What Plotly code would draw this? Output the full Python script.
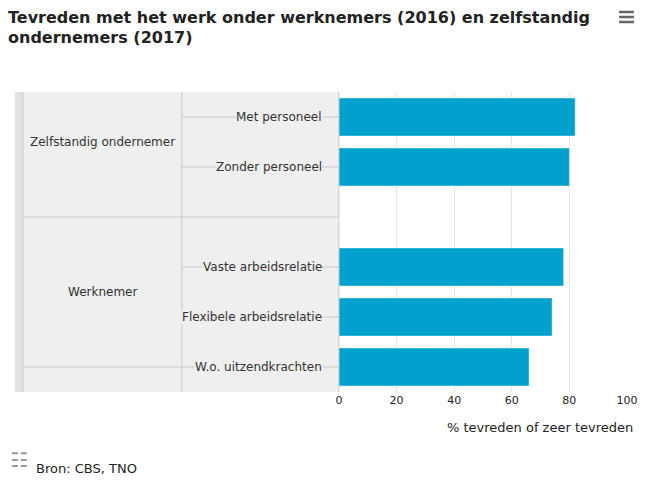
import plotly.graph_objects as go

categories = ["Met personeel", "Zonder personeel", " ", "Vaste arbeidsrelatie", "Flexibele arbeidsrelatie", "W.o. uitzendkrachten"]
values = [82, 80, None, 78, 74, 66]
groups = ["Zelfstandig ondernemer", "Werknemer"]
xticks = [0, 20, 40, 60, 80, 100]

font = "DejaVu Sans"
fig = go.Figure(go.Bar(y=categories, x=values, orientation="h", marker_color="#00a1cd",
                       hoverinfo="x+y"))

W = 616
def px(p):
    return (p - 12) / W
def py(p):
    return (392 - p) / 300

x0 = px(338)
xmid = px(180)
xin = px(20)
gl = dict(color="#c8c8c8", width=1)
shapes = [
    dict(type="rect", xref="paper", yref="paper", x0=0, x1=x0, y0=0, y1=1, fillcolor="#efefef", line_width=0, layer="below"),
    dict(type="rect", xref="paper", yref="paper", x0=0, x1=xin, y0=0, y1=1, fillcolor="#e2e2e2", line_width=0, layer="below"),
    dict(type="line", xref="paper", yref="paper", x0=xin, x1=xin, y0=0, y1=1, line=gl),
    dict(type="line", xref="paper", yref="paper", x0=xmid, x1=xmid, y0=0, y1=1, line=gl),
    dict(type="line", xref="paper", yref="y", x0=xin, x1=x0, y0=2, y1=2, line=gl),
    dict(type="line", xref="paper", yref="y", x0=xin, x1=xmid, y0=5, y1=5, line=gl),
    dict(type="line", xref="paper", yref="paper", x0=x0, x1=x0, y0=0, y1=1, line=gl),
]
# menu icon (three bars)
for yy in (12, 17, 22):
    shapes.append(dict(type="line", xref="paper", yref="paper", x0=px(620), x1=px(635), y0=py(yy), y1=py(yy),
                       line=dict(color="#666", width=2.5)))
annotations = []
for i, c in enumerate(categories):
    if c.strip():
        shapes.append(dict(type="line", xref="paper", yref="y", x0=xmid, x1=x0, y0=i, y1=i, line=gl))
        annotations.append(dict(text=c, xref="paper", yref="y", x=px(322), y=i, xanchor="right",
                                showarrow=False, bgcolor="#efefef", borderpad=0, font=dict(size=12, color="#333")))
annotations += [
    dict(text=groups[0], xref="paper", yref="y", x=(xin + xmid) / 2, y=0.5, xanchor="center", showarrow=False, font=dict(size=12, color="#333")),
    dict(text=groups[1], xref="paper", yref="y", x=(xin + xmid) / 2, y=3.5, xanchor="center", showarrow=False, font=dict(size=12, color="#333")),
    dict(text="% tevreden of zeer tevreden", xref="paper", yref="paper", x=px(636), y=py(427), xanchor="right", yanchor="middle",
         showarrow=False, font=dict(size=13, color="#222")),
    dict(text="Bron: CBS, TNO", xref="paper", yref="paper", x=px(31), y=py(468), xanchor="left", yanchor="middle",
         showarrow=False, font=dict(size=13, color="#222")),
    dict(text="☷", xref="paper", yref="paper", x=px(5), y=py(460), xanchor="left", yanchor="middle",
         showarrow=False, font=dict(size=20, color="#999")),
]

fig.update_layout(
    width=648, height=488, margin=dict(l=3, r=29, t=84, b=104),
    paper_bgcolor="white", plot_bgcolor="white", showlegend=False, bargap=0.24,
    font=dict(family=font, size=11, color="#333"),
    title=dict(text="<b>Tevreden met het werk onder werknemers (2016) en zelfstandig<br>ondernemers (2017)</b>",
               x=0.0, xanchor="left", y=0.97, yanchor="top", font=dict(size=16, color="#222")),
    xaxis=dict(domain=[x0, 1], range=[0, 100], tickvals=xticks, showgrid=True, gridcolor="#e6e6e6",
               zeroline=False, ticks="", tickfont=dict(size=11, color="#222")),
    yaxis=dict(categoryorder="array", categoryarray=categories, autorange="reversed", showticklabels=False,
               showgrid=False, zeroline=False),
    shapes=shapes, annotations=annotations,
)
fig.write_html("out.html")
